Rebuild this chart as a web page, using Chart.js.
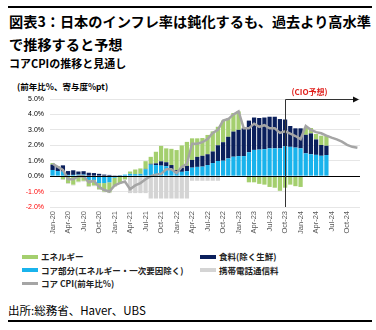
<!DOCTYPE html>
<html lang="ja">
<head>
<meta charset="UTF-8">
<title>コアCPIの推移と見通し</title>
<script src="https://cdn.jsdelivr.net/npm/chart.js@4.4.1/dist/chart.umd.min.js"></script>
<style>
  body { margin:0; width:376px; height:330px; background:#fff; position:relative; overflow:hidden;
         font-family:"Noto Sans CJK JP", sans-serif; color:#000; }
  .rule { position:absolute; left:8px; width:364px; height:2px; background:#000; }
  .title { position:absolute; left:9px; top:10px; font-size:14.2px; line-height:23px; font-weight:bold; white-space:nowrap; }
  .sub { position:absolute; left:9px; top:56px; font-size:11px; line-height:14px; font-weight:bold; white-space:nowrap; }
  .ytitle { position:absolute; left:17px; top:81px; font-size:8.5px; line-height:10px; font-weight:bold; white-space:nowrap; }
  #wrap { position:absolute; left:0; top:0; width:376px; height:245px; }
  .leg { position:absolute; font-size:8.5px; line-height:11px; font-weight:bold; white-space:nowrap; color:#222; }
  .leg i { display:inline-block; width:16px; height:4px; vertical-align:middle; margin-right:3px; margin-top:-2px; }
  .foot { position:absolute; left:8px; top:302px; font-size:11.5px; line-height:16px; white-space:nowrap; }
</style>
</head>
<body>
<div class="rule" style="top:6px"></div>
<div class="title">図表3：日本のインフレ率は鈍化するも、過去より高水準<br>で推移すると予想</div>
<div class="sub">コアCPIの推移と見通し</div>
<div class="ytitle">(前年比%、寄与度%pt)</div>
<div id="wrap"><canvas id="grafica" width="376" height="245"></canvas></div>

<div class="leg" style="left:22px;top:251px"><i style="background:#a4cf6e"></i>エネルギー</div>
<div class="leg" style="left:200px;top:251px"><i style="background:#0a1f5c"></i>食料(除く生鮮)</div>
<div class="leg" style="left:22px;top:264.5px"><i style="background:#19b3ec"></i>コア部分(エネルギー・一次要因除く)</div>
<div class="leg" style="left:200px;top:264.5px"><i style="background:#d4d4d4"></i>携帯電話通信料</div>
<div class="leg" style="left:22px;top:278px"><i style="background:#a5a5a5;height:3px"></i>コア CPI(前年比%)</div>

<div class="foot">出所:総務省、Haver、UBS</div>
<div class="rule" style="top:320px"></div>

<script>
  // meses (Jan-20 .. Dec-24)
  const months = [
    'Jan-20','Feb-20','Mar-20','Apr-20','May-20','Jun-20','Jul-20','Aug-20','Sep-20','Oct-20','Nov-20','Dec-20',
    'Jan-21','Feb-21','Mar-21','Apr-21','May-21','Jun-21','Jul-21','Aug-21','Sep-21','Oct-21','Nov-21','Dec-21',
    'Jan-22','Feb-22','Mar-22','Apr-22','May-22','Jun-22','Jul-22','Aug-22','Sep-22','Oct-22','Nov-22','Dec-22',
    'Jan-23','Feb-23','Mar-23','Apr-23','May-23','Jun-23','Jul-23','Aug-23','Sep-23','Oct-23','Nov-23','Dec-23',
    'Jan-24','Feb-24','Mar-24','Apr-24','May-24','Jun-24','Jul-24','Aug-24','Sep-24','Oct-24','Nov-24','Dec-24'
  ];
  // etiquetas visibles del eje X
  const tickLabels = ['Jan-20','Apr-20','Jul-20','Oct-20','Jan-21','Apr-21','Jul-21','Oct-21','Jan-22','Apr-22',
    'Jul-22','Oct-22','Jan-23','Apr-23','Jul-23','Oct-23','Jan-24','Apr-24','Jul-24','Oct-24'];
  const yTicks = [-2, -1, 0, 1, 2, 3, 4, 5];

  // contribuciones (%pt)
  const core = [0.40,0.33,0.30,0.08,0.08,0.10,0.10,-0.25,-0.25,-0.45,-0.45,-0.40,
    -0.10,0.05,0.10,0.15,0.13,0.15,0.45,0.75,0.72,0.68,0.65,0.40,
    0.28,0.28,0.32,0.55,0.60,0.62,0.72,0.85,0.98,1.00,1.15,1.26,
    1.30,1.30,1.55,1.70,1.72,1.75,1.80,1.80,1.80,1.93,1.90,1.85,
    1.80,1.48,1.42,1.38,1.32,1.37];
  const food = [0.35,0.27,0.40,0.25,0.30,0.20,0.22,0.22,0.20,0.15,0.10,0.08,
    0.05,0.02,0.00,0.00,0.00,0.00,0.02,0.05,0.11,0.28,0.25,0.32,
    0.11,0.26,0.35,0.50,0.65,0.70,0.70,0.75,1.02,1.20,1.40,1.63,
    1.70,1.80,2.05,2.10,2.05,2.05,2.05,2.05,1.90,1.74,1.35,1.25,
    1.30,1.20,1.35,1.00,0.70,0.60];
  const energy = [0.10,0.05,-0.20,-0.45,-0.55,-0.35,-0.30,-0.40,-0.35,-0.40,-0.55,-0.65,
    -0.55,-0.45,-0.20,0.15,0.30,0.35,0.50,0.45,0.75,1.00,0.90,1.05,
    1.30,1.45,1.55,1.40,1.20,1.15,1.25,1.30,1.20,1.40,1.20,1.20,
    1.20,0.05,-0.40,-0.40,-0.50,-0.55,-0.70,-0.75,-0.95,-0.75,-0.55,-0.65,
    -0.70,0.45,0.35,0.35,0.60,0.66];
  const mobile = [-0.05,-0.05,-0.05,-0.05,-0.05,-0.05,-0.05,-0.05,-0.05,-0.05,-0.05,-0.05,
    -0.05,-0.05,-0.05,-1.10,-1.10,-1.10,-1.10,-1.45,-1.45,-1.45,-1.45,-1.45,
    -1.45,-1.45,-1.45,-0.30,-0.30,-0.30,-0.30,-0.30,-0.30,0,0,0,
    0,0,0,0,0,0,0,0,0,0,0,0,
    0,0,0,0,0,0];
  // コアCPI 前年比 (%)
  const coreCPI = [0.8,0.6,0.4,-0.2,-0.2,0.0,0.0,-0.4,-0.3,-0.7,-0.9,-1.0,
    -0.6,-0.45,-0.35,-0.85,-0.6,-0.45,-0.2,0.0,0.1,0.15,0.45,0.45,
    0.2,0.6,0.8,2.1,2.1,2.2,2.4,2.8,3.0,3.6,3.7,4.0,
    4.2,3.1,3.1,3.4,3.2,3.3,3.1,3.1,2.8,2.9,2.75,2.6,
    2.4,3.25,3.0,2.85,2.78,2.63,2.5,2.38,2.24,2.03,1.9,1.84];
  const forecastStart = 'Oct-23';

  // línea de cero, línea de previsión y flecha
  const previsionPlugin = {
    id: 'prevision',
    afterDatasetsDraw(chart) {
      const { ctx, chartArea, scales: { x, y } } = chart;
      ctx.save();
      const y0 = Math.round(y.getPixelForValue(0)) + 0.5;
      ctx.strokeStyle = '#000';
      ctx.lineWidth = 1;
      ctx.beginPath();
      ctx.moveTo(chartArea.left, y0);
      ctx.lineTo(chartArea.right, y0);
      ctx.stroke();

      const px = Math.round(x.getPixelForValue(months.indexOf(forecastStart))) + 0.5;
      const top = Math.round(y.getPixelForValue(yTicks[yTicks.length - 1])) + 0.5;
      const bottom = y.getPixelForValue(yTicks[0]);
      const end = chartArea.right - 1;
      ctx.strokeStyle = '#333';
      ctx.beginPath();
      ctx.moveTo(px, bottom);
      ctx.lineTo(px, top);
      ctx.lineTo(end - 5, top);
      ctx.stroke();
      ctx.fillStyle = '#111';
      ctx.beginPath();
      ctx.moveTo(end, top);
      ctx.lineTo(end - 6, top - 3);
      ctx.lineTo(end - 6, top + 3);
      ctx.closePath();
      ctx.fill();

      ctx.fillStyle = '#e0201c';
      ctx.font = 'bold 8px "Noto Sans CJK JP"';
      ctx.textBaseline = 'middle';
      ctx.fillText('(CIO予想)', px + 6, top - 8);
      ctx.restore();
    }
  };

  const ctx = document.getElementById('grafica').getContext('2d');
  new Chart(ctx, {
    data: {
      labels: months,
      datasets: [
        { type: 'line', label: 'コア CPI(前年比%)', data: coreCPI, stack: 'line', order: 0,
          borderColor: '#a5a5a5', borderWidth: 2.5, pointRadius: 0, tension: 0 },
        { type: 'bar', label: 'コア部分(エネルギー・一次要因除く)', data: core, stack: 'bars', order: 1,
          backgroundColor: '#19b3ec' },
        { type: 'bar', label: '食料(除く生鮮)', data: food, stack: 'bars', order: 1,
          backgroundColor: '#0a1f5c' },
        { type: 'bar', label: 'エネルギー', data: energy, stack: 'bars', order: 1,
          backgroundColor: '#a4cf6e' },
        { type: 'bar', label: '携帯電話通信料', data: mobile, stack: 'bars', order: 1,
          backgroundColor: '#d4d4d4' }
      ]
    },
    options: {
      responsive: false,
      animation: false,
      layout: { padding: { top: 99, right: 16, left: 0, bottom: 0 } },
      datasets: { bar: { barPercentage: 0.82, categoryPercentage: 1.0 } },
      plugins: { legend: { display: false }, tooltip: { enabled: false } },
      scales: {
        x: {
          stacked: true,
          grid: { display: false, drawTicks: false },
          border: { display: false },
          afterFit(scale) { scale.height = 38; },
          ticks: {
            autoSkip: false, minRotation: 90, maxRotation: 90, padding: 4,
            color: '#595959', font: { family: 'Liberation Sans', size: 7.5 },
            callback(v) { const m = months[v]; return tickLabels.includes(m) ? m : ''; }
          }
        },
        y: {
          stacked: true,
          min: yTicks[0], max: yTicks[yTicks.length - 1],
          afterFit(scale) { scale.width = 50; },
          afterBuildTicks(scale) { scale.ticks = yTicks.map(v => ({ value: v })); },
          grid: { color: '#e6e6e6', drawTicks: false },
          border: { display: false },
          ticks: {
            padding: 6,
            font: { family: 'Liberation Sans', size: 7 },
            color: c => c.tick.value < 0 ? '#ff0000' : '#000',
            callback: v => v.toFixed(1) + '%'
          }
        }
      }
    },
    plugins: [previsionPlugin]
  });
</script>
</body>
</html>
